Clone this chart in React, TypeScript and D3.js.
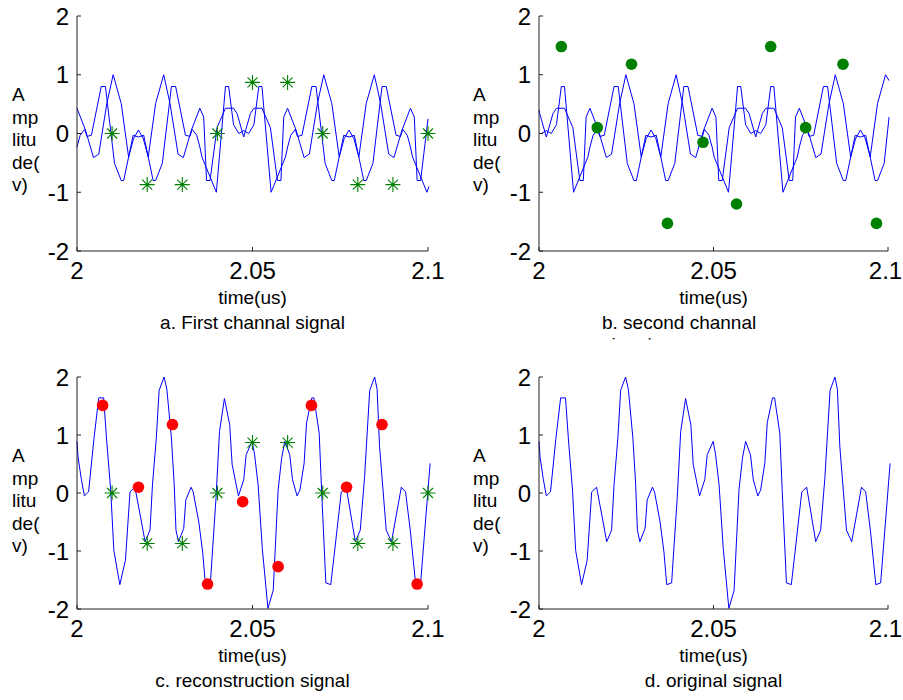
import React from "react";
import * as d3 from "d3";

// ---- data (time in us, amplitude in V) ----
const xTicks = [2, 2.05, 2.1];
const xTickLabels = ["2", "2.05", "2.1"];
const yTicks = [-2, -1, 0, 1, 2];
const yLabelLines = ["A", "mp", "litu", "de(", "v)"];

// panel a: two channel-1 curves
const aLine1T = [2.0, 2.0024, 2.0047, 2.0062, 2.0085, 2.0103, 2.0126, 2.0147, 2.0161, 2.0175, 2.0189, 2.0203, 2.0224, 2.0247, 2.0265, 2.0288, 2.0303, 2.0326, 2.035, 2.0361, 2.0369, 2.0379, 2.0399, 2.0423, 2.0446, 2.0456, 2.0475, 2.0494, 2.0504, 2.0527, 2.0551, 2.0571, 2.0581, 2.0589, 2.06, 2.0624, 2.0647, 2.0662, 2.0685, 2.0703, 2.0726, 2.0747, 2.0761, 2.0775, 2.0789, 2.0803, 2.0824, 2.0847, 2.0865, 2.0888, 2.0903, 2.0926, 2.095, 2.0961, 2.0969, 2.0979, 2.1];
const aLine1V = [0.43, 0.06, -0.41, -0.35, 0.51, 1.0, 0.51, -0.4, -0.09, 0.06, -0.09, -0.4, 0.51, 1.0, 0.51, -0.35, -0.41, 0.06, 0.43, 0.28, -0.8, -0.8, 0.1, 0.43, 0.43, 0.34, -0.06, 0.34, 0.43, 0.43, 0.1, -0.8, -0.8, 0.28, 0.43, 0.06, -0.41, -0.35, 0.51, 1.0, 0.51, -0.4, -0.09, 0.06, -0.09, -0.4, 0.51, 1.0, 0.51, -0.35, -0.41, 0.06, 0.43, 0.28, -0.8, -0.8, 0.25];
const aLine2T = [2.0, 2.0009, 2.0022, 2.0028, 2.0041, 2.0069, 2.0081, 2.0107, 2.0126, 2.0133, 2.016, 2.0175, 2.019, 2.0217, 2.0224, 2.0243, 2.0269, 2.0281, 2.0309, 2.0322, 2.0328, 2.0341, 2.035, 2.0356, 2.0397, 2.0423, 2.0432, 2.0446, 2.0461, 2.0475, 2.0489, 2.0504, 2.0518, 2.0527, 2.0553, 2.0594, 2.06, 2.0609, 2.0622, 2.0628, 2.0641, 2.0669, 2.0681, 2.0707, 2.0726, 2.0733, 2.076, 2.0775, 2.079, 2.0817, 2.0824, 2.0843, 2.0869, 2.0881, 2.0909, 2.0922, 2.0928, 2.0941, 2.095, 2.0956, 2.0997, 2.1003];
const aLine2V = [-0.23, -0.03, 0.07, -0.05, -0.03, 0.8, 0.8, -0.51, -0.8, -0.8, -0.03, -0.06, -0.03, -0.8, -0.8, -0.51, 0.8, 0.8, -0.03, -0.05, 0.07, -0.03, -0.23, -0.4, -1.0, 0.8, 0.8, 0.15, 0.0, 0.05, 0.0, 0.15, 0.8, 0.8, -1.0, -0.4, -0.23, -0.03, 0.07, -0.05, -0.03, 0.8, 0.8, -0.51, -0.8, -0.8, -0.03, -0.06, -0.03, -0.8, -0.8, -0.51, 0.8, 0.8, -0.03, -0.05, 0.07, -0.03, -0.23, -0.4, -1.0, -0.9];

// panel b: two channel-2 curves
const bLine1T = [2.0, 2.0002, 2.0021, 2.004, 2.005, 2.0073, 2.0097, 2.0117, 2.0127, 2.0135, 2.0146, 2.017, 2.0193, 2.0208, 2.0231, 2.0249, 2.0272, 2.0293, 2.0307, 2.0321, 2.0335, 2.0349, 2.037, 2.0393, 2.0411, 2.0434, 2.0449, 2.0472, 2.0496, 2.0507, 2.0515, 2.0525, 2.0545, 2.0569, 2.0592, 2.0602, 2.0621, 2.064, 2.065, 2.0673, 2.0697, 2.0717, 2.0727, 2.0735, 2.0746, 2.077, 2.0793, 2.0808, 2.0831, 2.0849, 2.0872, 2.0893, 2.0907, 2.0921, 2.0935, 2.0949, 2.097, 2.0993, 2.1003];
const bLine1V = [0.4, 0.34, -0.06, 0.34, 0.43, 0.43, 0.1, -0.8, -0.8, 0.28, 0.43, 0.06, -0.41, -0.35, 0.51, 1.0, 0.51, -0.4, -0.09, 0.06, -0.09, -0.4, 0.51, 1.0, 0.51, -0.35, -0.41, 0.06, 0.43, 0.28, -0.8, -0.8, 0.1, 0.43, 0.43, 0.34, -0.06, 0.34, 0.43, 0.43, 0.1, -0.8, -0.8, 0.28, 0.43, 0.06, -0.41, -0.35, 0.51, 1.0, 0.51, -0.4, -0.09, 0.06, -0.09, -0.4, 0.51, 1.0, 0.9];
const bLine2T = [2.0, 2.0007, 2.0021, 2.0035, 2.005, 2.0064, 2.0073, 2.0099, 2.014, 2.0146, 2.0155, 2.0168, 2.0174, 2.0187, 2.0215, 2.0227, 2.0253, 2.0272, 2.0279, 2.0306, 2.0321, 2.0336, 2.0363, 2.037, 2.0389, 2.0415, 2.0427, 2.0455, 2.0468, 2.0474, 2.0487, 2.0496, 2.0502, 2.0543, 2.0569, 2.0578, 2.0592, 2.0607, 2.0621, 2.0635, 2.065, 2.0664, 2.0673, 2.0699, 2.074, 2.0746, 2.0755, 2.0768, 2.0774, 2.0787, 2.0815, 2.0827, 2.0853, 2.0872, 2.0879, 2.0906, 2.0921, 2.0936, 2.0963, 2.097, 2.0989, 2.1003];
const bLine2V = [0.0, 0.0, 0.05, 0.0, 0.15, 0.8, 0.8, -1.0, -0.4, -0.23, -0.03, 0.07, -0.05, -0.03, 0.8, 0.8, -0.51, -0.8, -0.8, -0.03, -0.06, -0.03, -0.8, -0.8, -0.51, 0.8, 0.8, -0.03, -0.05, 0.07, -0.03, -0.23, -0.4, -1.0, 0.8, 0.8, 0.15, 0.0, 0.05, 0.0, 0.15, 0.8, 0.8, -1.0, -0.4, -0.23, -0.03, 0.07, -0.05, -0.03, 0.8, 0.8, -0.51, -0.8, -0.8, -0.03, -0.06, -0.03, -0.8, -0.8, -0.51, 0.28];

// panels c and d: original / reconstructed signal
const sigT = [2.0, 2.0003, 2.0012, 2.0021, 2.0033, 2.0048, 2.0062, 2.0076, 2.0084, 2.0096, 2.0105, 2.0122, 2.0138, 2.0151, 2.0165, 2.018, 2.0194, 2.0208, 2.0215, 2.0226, 2.0234, 2.0248, 2.0256, 2.0269, 2.0277, 2.0282, 2.0289, 2.0304, 2.031, 2.0325, 2.0331, 2.0347, 2.0358, 2.0366, 2.038, 2.0396, 2.0406, 2.042, 2.0435, 2.0442, 2.046, 2.0475, 2.0482, 2.0499, 2.0506, 2.0516, 2.0528, 2.0544, 2.0559, 2.0573, 2.0583, 2.0592, 2.0606, 2.0614, 2.0627, 2.0635, 2.0647, 2.0654, 2.0669, 2.0675, 2.069, 2.0697, 2.0709, 2.0723, 2.0733, 2.0753, 2.0767, 2.0793, 2.0807, 2.0819, 2.0834, 2.0848, 2.0855, 2.0862, 2.0881, 2.0896, 2.0924, 2.0936, 2.095, 2.0965, 2.0979, 2.1006];
const sigV = [0.89, 0.62, 0.25, -0.05, 0.02, 0.92, 1.64, 1.64, 0.95, 0.05, -0.99, -1.58, -1.16, 0.02, 0.1, -0.38, -0.84, -0.64, 0.14, 0.95, 1.77, 2.0, 1.79, 0.95, 0.14, -0.64, -0.84, -0.61, -0.12, 0.1, 0.02, -0.5, -1.02, -1.58, -1.55, -0.09, 1.06, 1.63, 1.18, 0.49, -0.05, 0.23, 0.66, 0.89, 0.66, 0.14, -0.96, -1.99, -1.68, 0.05, 0.6, 0.89, 0.66, 0.23, -0.05, 0.05, 0.51, 1.21, 1.64, 1.64, 1.03, 0.02, -1.55, -1.58, -1.05, 0.02, 0.1, -0.84, -0.64, 0.25, 1.77, 2.0, 1.79, 0.8, -0.64, -0.84, 0.1, 0.02, -0.67, -1.58, -1.55, 0.51];

// channel samples
const ch1T = [2.01, 2.02, 2.03, 2.04, 2.05, 2.06, 2.07, 2.08, 2.09, 2.1];
const ch1V = [0, -0.87, -0.87, 0, 0.87, 0.87, 0, -0.87, -0.87, 0];
const ch2bT = [2.0064, 2.0167, 2.0265, 2.0368, 2.047, 2.0566, 2.0664, 2.0764, 2.0871, 2.0967];
const ch2bV = [1.48, 0.1, 1.18, -1.53, -0.15, -1.2, 1.48, 0.1, 1.18, -1.53];
const ch2cT = [2.0073, 2.0175, 2.0272, 2.0372, 2.0472, 2.0573, 2.0668, 2.0768, 2.0869, 2.0969];
const ch2cV = [1.51, 0.1, 1.18, -1.57, -0.15, -1.27, 1.51, 0.1, 1.18, -1.57];

const FONT = "'Liberation Sans', Arial, Helvetica, sans-serif";
const BLUE = "#0000ff";
const GREEN = "#008000";
const RED = "#ff0000";
const AXIS = "#222";

const starPath = "M-7.5,0H7.5M0,-7.5V7.5M-5,-5L5,5M-5,5L5,-5";

const Panel = ({ left, right, top, bottom, labelX, lines, stars, dots, dotColor, caption, captionX, captionAnchor, lastTickShift = 0 }) => {
  const x = d3.scaleLinear().domain([2, 2.1]).range([left, right]);
  const y = d3.scaleLinear().domain([-2, 2]).range([bottom, top]);
  const line = d3
    .line()
    .x((d) => x(d[0]))
    .y((d) => y(d[1]));

  return (
    <g>
      {/* y label, broken over several lines like the original */}
      <text fontSize={19} fill="#000">
        {yLabelLines.map((s, i) => (
          <tspan key={i} x={labelX} y={top + 85 + i * 22.5}>
            {s}
          </tspan>
        ))}
      </text>

      {lines.map((s, i) => (
        <path key={i} d={line(d3.zip(s.t, s.v))} fill="none" stroke={BLUE} strokeWidth={1} strokeLinejoin="round" />
      ))}

      {stars &&
        stars.t.map((t, i) => (
          <path key={i} d={starPath} transform={`translate(${x(t)},${y(stars.v[i])})`} stroke={GREEN} strokeWidth={1.1} fill="none" />
        ))}

      {dots &&
        dots.t.map((t, i) => <circle key={i} cx={x(t)} cy={y(dots.v[i])} r={5.8} fill={dotColor} />)}

      {/* axes: left and bottom only */}
      <line x1={left} x2={left} y1={top} y2={bottom} stroke={AXIS} strokeWidth={1} />
      <line x1={left} x2={right} y1={bottom} y2={bottom} stroke={AXIS} strokeWidth={1} />
      {yTicks.map((v) => (
        <g key={v}>
          <line x1={left} x2={left + 4} y1={y(v)} y2={y(v)} stroke={AXIS} />
          <text x={left - 8} y={y(v)} dy="0.36em" textAnchor="end" fontSize={24}>
            {v}
          </text>
        </g>
      ))}
      {xTicks.map((t, i) => (
        <g key={t}>
          <line x1={x(t)} x2={x(t)} y1={bottom} y2={bottom - 4} stroke={AXIS} />
          <text
            x={x(t) + (i === xTicks.length - 1 ? lastTickShift : 0)}
            y={bottom + 28}
            textAnchor="middle"
            fontSize={24}
          >
            {xTickLabels[i]}
          </text>
        </g>
      ))}
      <text x={(left + right) / 2} y={bottom + 52.5} textAnchor="middle" fontSize={19}>
        time(us)
      </text>
      {caption.map((c, i) => (
        <text
          key={i}
          x={captionX ?? (left + right) / 2}
          y={bottom + 77.5 + i * 22}
          textAnchor={captionAnchor ?? "middle"}
          fontSize={19}
        >
          {c}
        </text>
      ))}
    </g>
  );
};

const App = () => (
  <svg
    width={903}
    height={700}
    style={{ position: "absolute", left: 0, top: 0, background: "#fff" }}
    fontFamily={FONT}
  >
    <rect width={903} height={700} fill="#fff" />
    <Panel
      left={77}
      right={428}
      top={16}
      bottom={251}
      labelX={12}
      lines={[
        { t: aLine1T, v: aLine1V },
        { t: aLine2T, v: aLine2V },
      ]}
      stars={{ t: ch1T, v: ch1V }}
      caption={["a. First channal signal"]}
    />
    <Panel
      left={539}
      right={888}
      top={16}
      bottom={251}
      labelX={473}
      lines={[
        { t: bLine1T, v: bLine1V },
        { t: bLine2T, v: bLine2V },
      ]}
      dots={{ t: ch2bT, v: ch2bV }}
      dotColor={GREEN}
      caption={["b. second channal", "signal"]}
      captionX={602}
      captionAnchor="start"
      lastTickShift={-2.5}
    />
    {/* the second line of caption b is covered by the lower panel's background */}
    <rect x={560} y={339.5} width={220} height={22} fill="#fff" />
    <Panel
      left={77}
      right={428}
      top={377}
      bottom={609}
      labelX={12}
      lines={[{ t: sigT, v: sigV }]}
      stars={{ t: ch1T, v: ch1V }}
      dots={{ t: ch2cT, v: ch2cV }}
      dotColor={RED}
      caption={["c. reconstruction signal"]}
    />
    <Panel
      left={539}
      right={888}
      top={377}
      bottom={609}
      labelX={473}
      lines={[{ t: sigT, v: sigV }]}
      caption={["d. original signal"]}
      lastTickShift={-2.5}
    />
  </svg>
);

export default App;
